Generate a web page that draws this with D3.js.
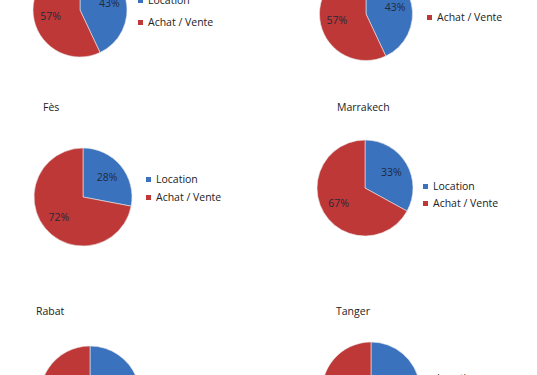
<!DOCTYPE html>
<html>
<head>
<meta charset="utf-8">
<script src="https://cdn.jsdelivr.net/npm/d3@7"></script>
<style>
  body { margin: 0; background: #fff; }
  text { font-family: "Open Sans", sans-serif; fill: #222; }
</style>
</head>
<body>
<div id="chart"></div>
<script>
// data
const cities = ["", "", "Fès", "Marrakech", "Rabat", "Tanger"];
const categories = ["Location", "Achat / Vente"];
const locationPct = [43, 43, 28, 33, 38, 45];
const achatVentePct = [57, 57, 72, 67, 62, 55];

const colors = ["#3a72be", "#be3837"];

// layout of each small chart (pie centre, radius, title, legend)
const panels = [
  {cx: 80,  cy: 10,  r: 47,   tx: 0,   ty: -40, lx: 138, ly: 4,   gap: 22},
  {cx: 366, cy: 14,  r: 46.5, tx: 0,   ty: -40, lx: 427, ly: -1,  gap: 22},
  {cx: 83,  cy: 197, r: 49,   tx: 43,  ty: 111, lx: 146, ly: 183, gap: 18},
  {cx: 365, cy: 188, r: 48,   tx: 337, ty: 111, lx: 423, ly: 190, gap: 17},
  {cx: 90,  cy: 396, r: 50,   tx: 36,  ty: 315, lx: 150, ly: 400, gap: 18},
  {cx: 371, cy: 391, r: 49,   tx: 336, ty: 315, lx: 427, ly: 382, gap: 18}
];

const width = 537, height = 375;

const svg = d3.select("#chart")
  .append("svg")
    .attr("width", width)
    .attr("height", height);

const pie = d3.pie().sort(null).value(d => d.value);

cities.forEach(function(city, i) {
  const p = panels[i];
  const values = [
    {name: categories[0], value: locationPct[i]},
    {name: categories[1], value: achatVentePct[i]}
  ];
  const arcs = pie(values);
  const arc = d3.arc().innerRadius(0).outerRadius(p.r);
  const labelArc = d3.arc().innerRadius(p.r * 0.64).outerRadius(p.r * 0.64);

  const g = svg.append("g");

  // title
  if (city) {
    g.append("text")
      .attr("x", p.tx)
      .attr("y", p.ty)
      .style("font-size", "10.5px")
      .text(city);
  }

  const pg = g.append("g")
    .attr("transform", `translate(${p.cx}, ${p.cy})`);

  pg.selectAll("path")
    .data(arcs)
    .join("path")
      .attr("d", arc)
      .attr("fill", (d, j) => colors[j])
      .attr("stroke", "#e8e8e8")
      .attr("stroke-width", 0.6);

  pg.selectAll("text")
    .data(arcs)
    .join("text")
      .attr("transform", d => `translate(${labelArc.centroid(d)})`)
      .attr("text-anchor", "middle")
      .attr("dy", "0.35em")
      .style("font-size", "10.5px")
      .style("fill", "#1f2a3a")
      .text(d => d.data.value + "%");

  // legend
  const lg = g.append("g")
    .attr("transform", `translate(${p.lx}, ${p.ly})`);

  categories.forEach(function(c, j) {
    lg.append("rect")
      .attr("x", 0)
      .attr("y", j * p.gap - 6)
      .attr("width", 5)
      .attr("height", 5)
      .attr("fill", colors[j]);
    lg.append("text")
      .attr("x", 10)
      .attr("y", j * p.gap)
      .style("font-size", "10.5px")
      .text(c);
  });
});
</script>
</body>
</html>
